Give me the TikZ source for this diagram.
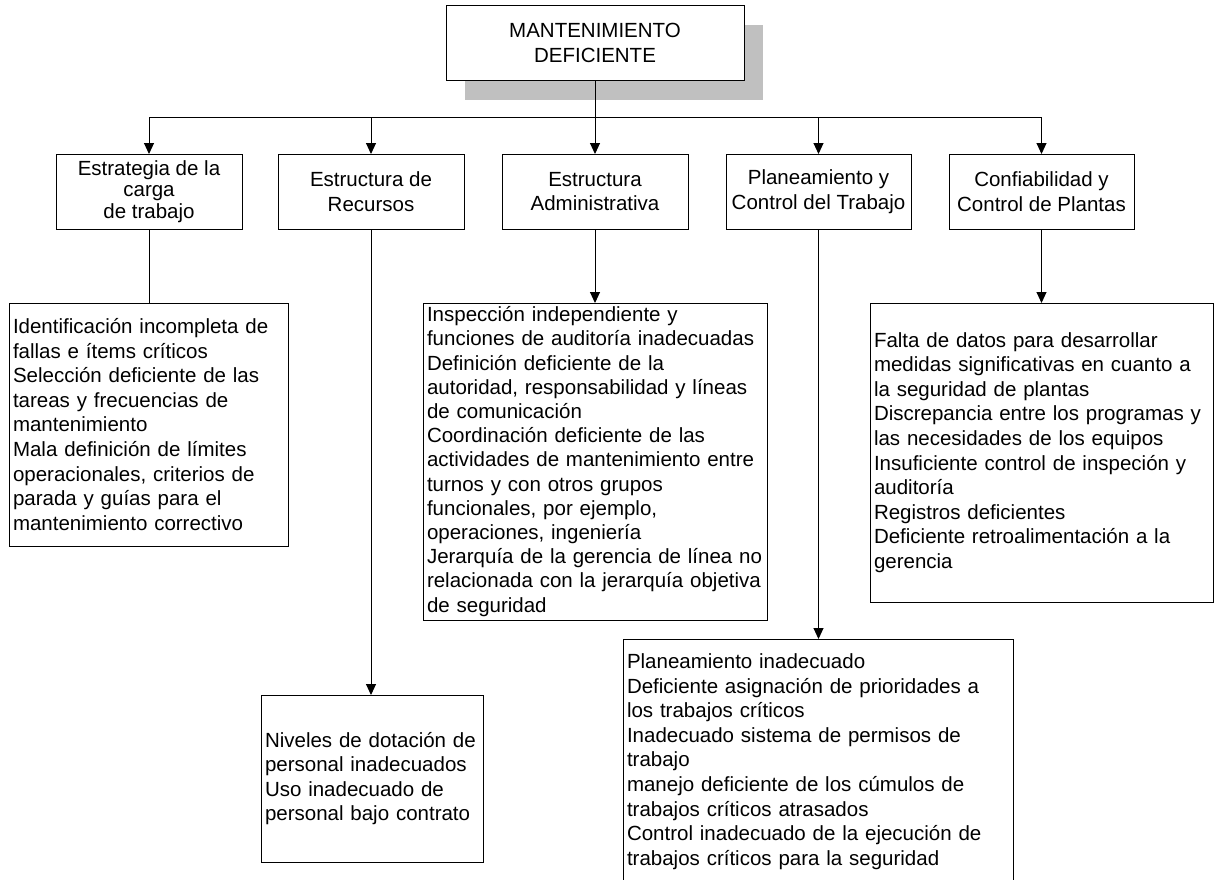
\documentclass[tikz,border=0pt]{standalone}
\usepackage{fontspec}
\setmainfont{Liberation Sans}
\usetikzlibrary{arrows.meta}
\definecolor{shadowgray}{HTML}{C0C0C0}
\begin{document}
\begin{tikzpicture}[x=1pt,y=-1pt,
  box/.style={draw=black, line width=1pt, fill=white, inner sep=0pt, outer sep=0pt},
  headbox/.style={box, minimum width=186pt, minimum height=75pt, align=center,
    font=\fontsize{20.5}{24.6}\selectfont},
  listbox/.style={box, align=left, inner xsep=4pt, inner ysep=0pt,
    font=\fontsize{20.5}{24.6}\selectfont},
  conn/.style={line width=1pt, draw=black},
  arr/.style={conn, -{Triangle[length=11pt,width=10pt]}},
]
\useasboundingbox (0,0) rectangle (1217,879);

% root box with its drop shadow
\node[box, minimum width=298pt, minimum height=75pt, fill=none, draw=none] (topghost) at (595,42.5) {};
\fill[shadowgray] ([xshift=19pt,yshift=-20pt]topghost.south west)
  rectangle ([xshift=19pt,yshift=-20pt]topghost.north east);
\node[box, minimum width=298pt, minimum height=75pt, align=center,
  font=\fontsize{20.5}{25}\selectfont] (top) at (595,42.5) {MANTENIMIENTO\\DEFICIENTE};

% second level
\node[headbox, font=\fontsize{20.5}{21.8}\selectfont] (h1) at (149,191.5) {Estrategia de la\\carga\\de trabajo};
\node[headbox] (h2) at (371,191.5) {Estructura de\\Recursos};
\node[headbox] (h3) at (595,191.5) {Estructura\\Administrativa};
\node[headbox, minimum width=185pt] (h4) at (818.5,191.5) {Planeamiento y\\Control del Trabajo};
\node[headbox, minimum width=185pt] (h5) at (1041.5,191.5) {Confiabilidad y\\Control de Plantas};

% third level
\node[listbox, minimum width=279pt, text width=271pt, minimum height=243pt] (l1) at (148.5,424.5)
  {Identificación incompleta de\\fallas e ítems críticos\\Selección deficiente de las\\tareas y frecuencias de\\mantenimiento\\Mala definición de límites\\operacionales, criterios de\\parada y guías para el\\mantenimiento correctivo};
\node[listbox, minimum width=222pt, text width=214pt, minimum height=167pt] (l2) at (372,778.5)
  {Niveles de dotación de\\personal inadecuados\\Uso inadecuado de\\personal bajo contrato};
\node[listbox, minimum width=344pt, text width=336pt, minimum height=317pt,
  font=\fontsize{20.5}{24.2}\selectfont] (l3) at (595,461.5)
  {Inspección independiente y\\funciones de auditoría inadecuadas\\Definición deficiente de la\\autoridad, responsabilidad y líneas\\de comunicación\\Coordinación deficiente de las\\actividades de mantenimiento entre\\turnos y con otros grupos\\funcionales, por ejemplo,\\operaciones, ingeniería\\Jerarquía de la gerencia de línea no\\relacionada con la jerarquía objetiva\\de seguridad};
\node[listbox, minimum width=390pt, text width=382pt, minimum height=245pt] (l4) at (818,761.5)
  {Planeamiento inadecuado\\Deficiente asignación de prioridades a\\los trabajos críticos\\Inadecuado sistema de permisos de\\trabajo\\manejo deficiente de los cúmulos de\\trabajos críticos atrasados\\Control inadecuado de la ejecución de\\trabajos críticos para la seguridad};
\node[listbox, minimum width=343pt, text width=335pt, minimum height=299pt] (l5) at (1041.5,452.5)
  {Falta de datos para desarrollar\\medidas significativas en cuanto a\\la seguridad de plantas\\Discrepancia entre los programas y\\las necesidades de los equipos\\Insuficiente control de inspeción y\\auditoría\\Registros deficientes\\Deficiente retroalimentación a la\\gerencia};

% connectors from the root
\coordinate (bus) at (595,117);
\draw[conn] (top.south) -- (bus);
\draw[conn] (bus -| h1.north) -- (bus -| h5.north);
\foreach \n in {h1,h2,h3,h4,h5}
  \draw[arr] (bus -| \n.north) -- (\n.north);

% connectors to the detail boxes
\draw[conn] (h1.south) -- (h1.south |- l1.north);
\draw[arr] (h2.south) -- (h2.south |- l2.north);
\draw[arr] (h3.south) -- (h3.south |- l3.north);
\draw[arr] (h4.south) -- (h4.south |- l4.north);
\draw[arr] (h5.south) -- (h5.south |- l5.north);
\end{tikzpicture}
\end{document}
